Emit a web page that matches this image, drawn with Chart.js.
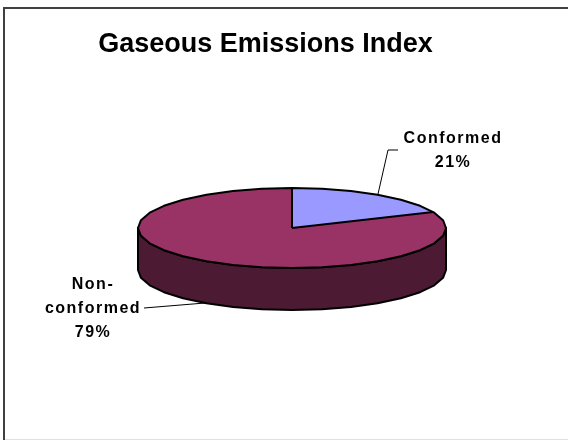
<!DOCTYPE html>
<html>
<head>
<meta charset="utf-8">
<style>
  html, body { margin: 0; padding: 0; background: #fff; overflow: hidden; }
  #wrap { position: absolute; left: 0; top: 0; width: 568px; height: 440px; }
</style>
<script src="https://cdn.jsdelivr.net/npm/chart.js@4/dist/chart.umd.min.js"></script>
</head>
<body>
<div id="wrap"><canvas id="chart" width="568" height="440"></canvas></div>
<script>
const categories = ['Conformed', 'Non-conformed'];
const shares = [21, 79];
const topColors = ['#9999FF', '#993366'];
const sideColors = ['#4D1A33', '#4D1A33'];
const chartTitle = 'Gaseous Emissions Index';

// label text is split the way the original wraps it
const labelLines = [['Conformed', '21%'], ['Non-', 'conformed', '79%']];
const labelAnchors = [[453, 143], [93, 289]];
const leaders = [
  [[398, 150], [388, 150], [378, 194]],
  [[144, 308], [205, 303]]
];

// where the tilted pie sits on the page
const tilt = { cx: 292, cy: 228, rx: 154, ry: 40, depth: 42, steps: 32, skew: 0.33 };

// the original's 3D view pulls slice edges towards the top of the ellipse
function viewAngle(a) {
  const phi = a + Math.PI / 2;
  return a - tilt.skew * Math.sin(2 * phi) * (phi < Math.PI ? 1 : 0);
}

function rimPoint(angle, dy) {
  return [tilt.cx + tilt.rx * Math.cos(angle), tilt.cy + dy + tilt.ry * Math.sin(angle)];
}

// ellipse outline made of straight pieces, same look as the original
function rimPath(ctx, start, end, dy) {
  const step = Math.PI * 2 / tilt.steps;
  const p0 = rimPoint(start, dy);
  ctx.moveTo(p0[0], p0[1]);
  for (let k = Math.floor(start / step) + 1; k * step < end; k++) {
    const p = rimPoint(k * step, dy);
    ctx.lineTo(p[0], p[1]);
  }
  const p1 = rimPoint(end, dy);
  ctx.lineTo(p1[0], p1[1]);
}

const framePlugin = {
  id: 'frame',
  beforeDraw(chart) {
    const ctx = chart.ctx;
    ctx.save();
    ctx.fillStyle = '#ffffff';
    ctx.fillRect(0, 0, 568, 440);
    ctx.fillStyle = '#404040';
    ctx.fillRect(3, 7, 2, 433);
    ctx.fillRect(3, 7, 565, 2);
    ctx.fillStyle = '#e0e0e0';
    ctx.fillRect(5, 439, 563, 1);
    ctx.restore();
  }
};

const tiltPlugin = {
  id: 'tilt',
  beforeDatasetDraw(chart) {
    const ctx = chart.ctx;
    const arcs = chart.getDatasetMeta(0).data;
    const first = arcs[0];
    const step = Math.PI * 2 / tilt.steps;

    ctx.save();
    ctx.lineWidth = 2;
    ctx.strokeStyle = '#000000';
    ctx.lineJoin = 'round';

    // side wall, only the front half of the rim can be seen
    arcs.forEach((arc, i) => {
      const from = Math.max(viewAngle(arc.startAngle), 0);
      const to = Math.min(viewAngle(arc.endAngle), Math.PI);
      if (to <= from) return;
      ctx.beginPath();
      rimPath(ctx, from, to, 0);
      const corner = rimPoint(to, tilt.depth);
      ctx.lineTo(corner[0], corner[1]);
      for (let k = Math.ceil(to / step) - 1; k * step > from; k--) {
        const p = rimPoint(k * step, tilt.depth);
        ctx.lineTo(p[0], p[1]);
      }
      const pe = rimPoint(from, tilt.depth);
      ctx.lineTo(pe[0], pe[1]);
      ctx.closePath();
      ctx.fillStyle = sideColors[i];
      ctx.fill();
      ctx.stroke();
    });

    // top face: the library's arcs, squashed and clipped to the rim
    ctx.save();
    ctx.beginPath();
    rimPath(ctx, 0, Math.PI * 2, 0);
    ctx.closePath();
    ctx.clip();
    ctx.translate(tilt.cx, tilt.cy);
    ctx.scale(tilt.rx / first.outerRadius, tilt.ry / first.outerRadius);
    ctx.translate(-first.x, -first.y);
    arcs.forEach(arc => {
      const start = arc.startAngle;
      const end = arc.endAngle;
      arc.startAngle = viewAngle(start);
      arc.endAngle = viewAngle(end);
      arc.circumference = arc.endAngle - arc.startAngle;
      arc.draw(ctx);
      arc.startAngle = start;
      arc.endAngle = end;
      arc.circumference = end - start;
    });
    ctx.restore();

    // outlines with an even pen width
    ctx.beginPath();
    rimPath(ctx, 0, Math.PI * 2, 0);
    ctx.closePath();
    ctx.stroke();
    ctx.beginPath();
    arcs.forEach(arc => {
      const p = rimPoint(viewAngle(arc.startAngle), 0);
      ctx.moveTo(tilt.cx, tilt.cy);
      ctx.lineTo(p[0], p[1]);
    });
    ctx.stroke();
    ctx.restore();
    return false;
  },
  afterDatasetsDraw(chart) {
    const ctx = chart.ctx;
    ctx.save();
    ctx.strokeStyle = '#000000';
    ctx.lineWidth = 1;
    leaders.forEach(line => {
      ctx.beginPath();
      line.forEach((p, i) => i ? ctx.lineTo(p[0], p[1]) : ctx.moveTo(p[0], p[1]));
      ctx.stroke();
    });
    ctx.fillStyle = '#000000';
    ctx.font = 'bold 16px "Liberation Sans", Arial, sans-serif';
    ctx.letterSpacing = '1.5px';
    ctx.textAlign = 'center';
    ctx.textBaseline = 'alphabetic';
    labelLines.forEach((lines, i) => {
      lines.forEach((txt, j) => {
        ctx.fillText(txt, labelAnchors[i][0], labelAnchors[i][1] + j * 24);
      });
    });
    ctx.restore();
  }
};

const chart = new Chart(document.getElementById('chart').getContext('2d'), {
  type: 'pie',
  data: {
    labels: categories,
    datasets: [{
      data: shares,
      backgroundColor: topColors,
      borderWidth: 0
    }]
  },
  options: {
    responsive: false,
    animation: false,
    layout: { padding: { top: 28, right: 37 } },
    plugins: {
      legend: { display: false },
      tooltip: { enabled: false },
      title: {
        display: true,
        text: chartTitle,
        color: '#000000',
        font: { family: '"Liberation Sans", Arial, sans-serif', size: 27, weight: 'bold' },
        padding: 0
      }
    }
  },
  plugins: [framePlugin, tiltPlugin]
});
</script>
</body>
</html>
